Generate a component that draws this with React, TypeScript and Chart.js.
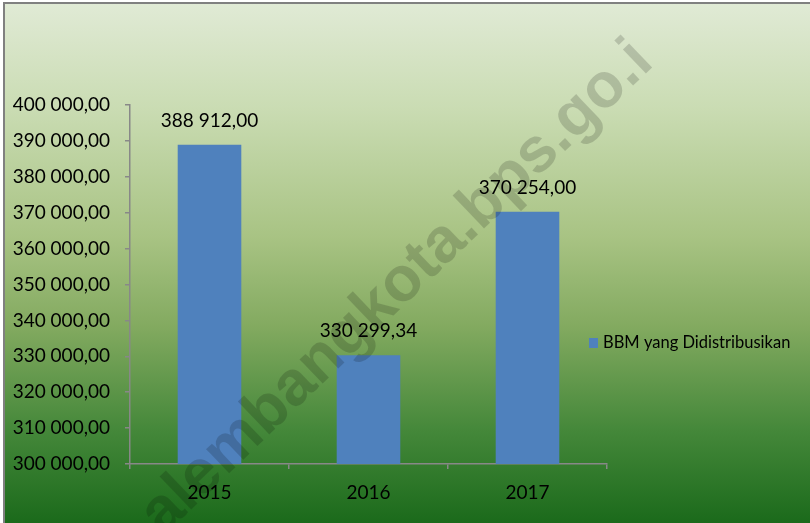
import React, { useEffect, useRef } from "react";
import Chart from "chart.js/auto";

const categories = ["2015", "2016", "2017"];
const values = [388912.0, 330299.34, 370254.0];
const seriesLabel = "BBM yang Didistribusikan";
const yMin = 300000;
const yMax = 400000;
const yStep = 10000;
const watermarkText = "palembangkota.bps.go.id";

const FONT = "Lato, 'Open Sans', sans-serif";
const AXIS_COLOR = "#888888";
const BAR_COLOR = "#4f81bd";

function fmt(v: number): string {
  const [i, d] = v.toFixed(2).split(".");
  return i.replace(/\B(?=(\d{3})+(?!\d))/g, " ") + "," + d;
}

const bgPlugin = {
  id: "bgPlugin",
  beforeDraw(chart: any) {
    const { ctx, width, height } = chart;
    ctx.save();
    ctx.fillStyle = "#ffffff";
    ctx.fillRect(0, 0, width, height);
    const g = ctx.createLinearGradient(0, 4, 0, height);
    g.addColorStop(0, "#e0ead5");
    g.addColorStop(0.2, "#cadcb3");
    g.addColorStop(0.45, "#a8c383");
    g.addColorStop(0.62, "#83aa60");
    g.addColorStop(0.82, "#45883a");
    g.addColorStop(1, "#1b6a1b");
    ctx.fillStyle = g;
    ctx.fillRect(4, 3, width, height);
    ctx.strokeStyle = "#808080";
    ctx.lineWidth = 2;
    ctx.beginPath();
    ctx.moveTo(4, height + 5);
    ctx.lineTo(4, 3);
    ctx.lineTo(width + 5, 3);
    ctx.stroke();
    ctx.restore();
  },
};

const labelPlugin = {
  id: "labelPlugin",
  afterDatasetsDraw(chart: any) {
    const { ctx } = chart;
    const meta = chart.getDatasetMeta(0);
    ctx.save();
    ctx.font = `19px ${FONT}`;
    ctx.fillStyle = "#000000";
    ctx.textAlign = "center";
    ctx.textBaseline = "middle";
    meta.data.forEach((bar: any, i: number) => {
      ctx.fillText(fmt(chart.data.datasets[0].data[i]), bar.x, bar.y - 24);
    });
    ctx.restore();
  },
};

const legendPlugin = {
  id: "legendPlugin",
  afterDraw(chart: any) {
    const { ctx, chartArea } = chart;
    const ds = chart.data.datasets[0];
    const x = chartArea.right - 18;
    const y = 343;
    ctx.save();
    ctx.fillStyle = ds.backgroundColor;
    ctx.fillRect(x, y - 5, 9, 10);
    ctx.font = `16.5px ${FONT}`;
    ctx.fillStyle = "#000000";
    ctx.textAlign = "left";
    ctx.textBaseline = "middle";
    ctx.fillText(ds.label, x + 14, y);
    ctx.restore();
  },
};

const watermarkPlugin = {
  id: "watermarkPlugin",
  afterDraw(chart: any) {
    const { ctx } = chart;
    ctx.save();
    ctx.beginPath();
    ctx.rect(4, 3, chart.width, chart.height);
    ctx.clip();
    ctx.translate(397, 288);
    ctx.rotate((-43.8 * Math.PI) / 180);
    ctx.font = `bold 63px 'Liberation Sans', Arial, sans-serif`;
    ctx.fillStyle = "rgba(0,0,0,0.16)";
    ctx.textBaseline = "middle";
    ctx.textAlign = "left";
    // visible part of the (cropped) watermark: from the 2nd letter to the last "i"
    const visible = watermarkText.slice(1, watermarkText.length - 1);
    const w = ctx.measureText(visible).width;
    const pw = ctx.measureText(watermarkText[0]).width;
    ctx.beginPath();
    ctx.rect(-w / 2 - 2, -60, w + 2, 120);
    ctx.clip();
    ctx.fillText(watermarkText, -w / 2 - pw, 0);
    ctx.restore();
  },
};

export default function App() {
  const ref = useRef<HTMLCanvasElement | null>(null);
  useEffect(() => {
    document.body.style.margin = "0";
    const canvas = ref.current!;
    const chart = new Chart(canvas, {
      type: "bar",
      data: {
        labels: categories,
        datasets: [
          {
            label: seriesLabel,
            data: values,
            backgroundColor: BAR_COLOR,
            borderWidth: 0,
            barPercentage: 0.4,
            categoryPercentage: 1.0,
          },
        ],
      },
      options: {
        responsive: false,
        animation: false,
        layout: { padding: { left: 0, top: 105, right: 203, bottom: 0 } },
        plugins: {
          legend: { display: false },
          tooltip: { enabled: false },
        },
        scales: {
          x: {
            grid: {
              display: true,
              offset: true,
              drawOnChartArea: false,
              drawTicks: true,
              tickLength: 5,
              color: AXIS_COLOR,
              lineWidth: 1.5,
            },
            border: { display: true, color: AXIS_COLOR, width: 1.5 },
            ticks: {
              font: { family: FONT, size: 19 },
              color: "#000000",
              padding: 12,
            },
            afterFit(s: any) {
              s.height = 59;
            },
          },
          y: {
            min: yMin,
            max: yMax,
            grid: {
              display: true,
              drawOnChartArea: false,
              drawTicks: true,
              tickLength: 5,
              color: AXIS_COLOR,
              lineWidth: 1.5,
            },
            border: { display: true, color: AXIS_COLOR, width: 1.5 },
            ticks: {
              stepSize: yStep,
              callback: (v: any) => fmt(Number(v)),
              font: { family: FONT, size: 19 },
              color: "#000000",
              padding: 15,
            },
            afterFit(s: any) {
              s.width = 130;
            },
          },
        },
      },
      plugins: [bgPlugin, labelPlugin, legendPlugin, watermarkPlugin],
    });
    return () => chart.destroy();
  }, []);
  return (
    <canvas
      ref={ref}
      width={810}
      height={523}
      style={{ position: "absolute", left: 0, top: 0, display: "block" }}
    />
  );
}
